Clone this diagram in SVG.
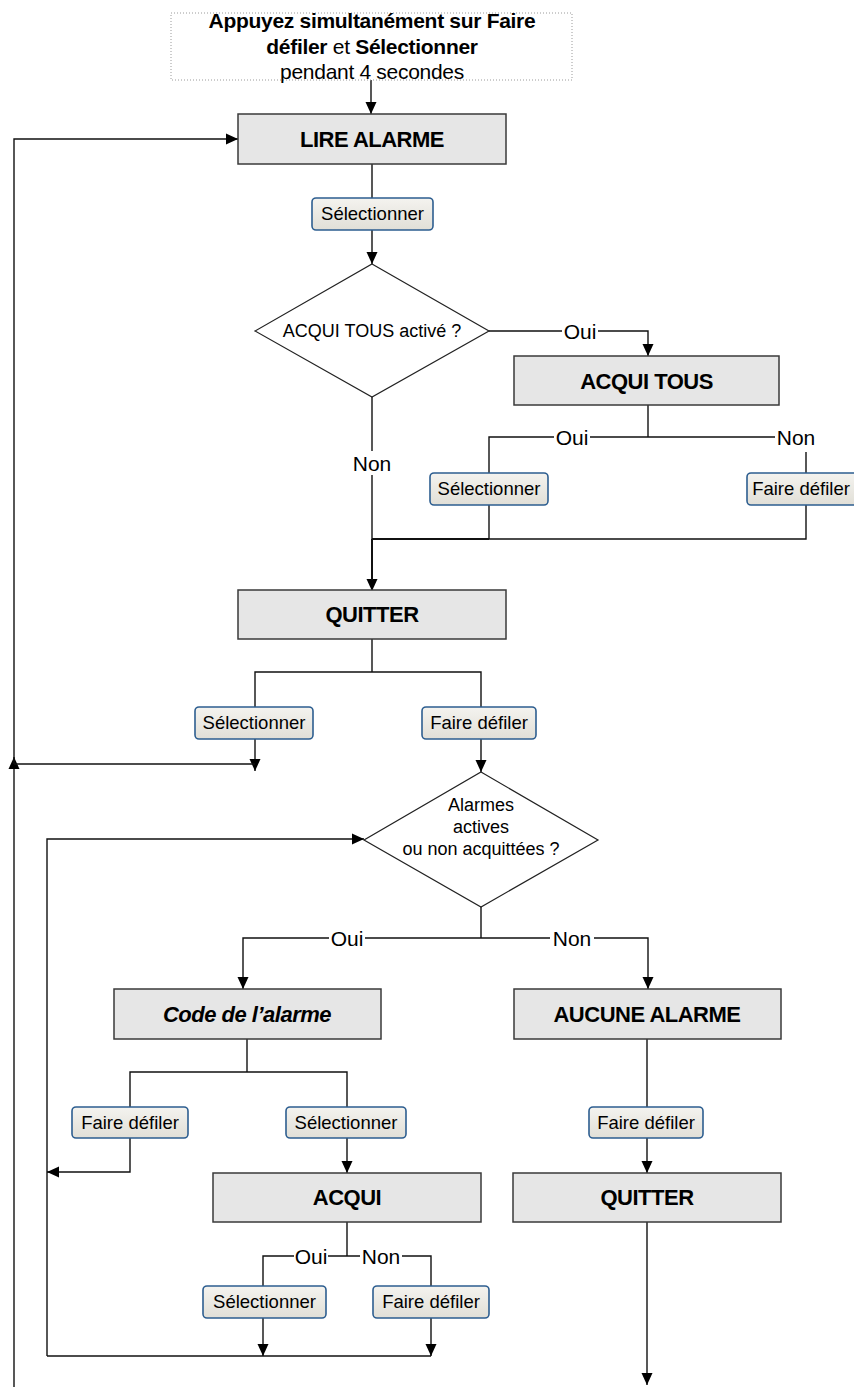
<svg xmlns="http://www.w3.org/2000/svg" width="854" height="1387" viewBox="0 0 854 1387">
<style>
.box{fill:#e6e6e6;stroke:#3a3a3a;stroke-width:1.5}
.btn{fill:url(#bg);stroke:#2d5e90;stroke-width:1.6}
.dia{fill:#fff;stroke:#222;stroke-width:1.2}
.t{font-family:"Liberation Sans",Arial,sans-serif;fill:#000;text-anchor:middle}
.bt{font-size:22px;font-weight:bold;letter-spacing:-0.5px}
.btx{font-size:18.5px}
.dt{font-size:18px}
.lb{font-size:21px}
.c{fill:none;stroke:#111;stroke-width:1.4}
.a{marker-end:url(#arr)}
.lbg{fill:#fff}
</style>
<defs>
<linearGradient id="bg" x1="0" y1="0" x2="0" y2="1">
<stop offset="0" stop-color="#f4f3ef"/>
<stop offset="1" stop-color="#e1dfd7"/>
</linearGradient>
<marker id="arr" markerWidth="12" markerHeight="12" viewBox="0 0 12 12" refX="12" refY="6" orient="auto" markerUnits="userSpaceOnUse">
<path d="M0,0.5 L12,6 L0,11.5 z" fill="#000"/>
</marker>
</defs>

<g id="connectors">
<path class="c a" d="M371,80 V114"/>
<path class="c" d="M372,164 V198"/>
<path class="c a" d="M372,230 V264"/>
<path class="c a" d="M489,331 H648 V356"/>
<path class="c a" d="M372,397 V591"/>
<path class="c" d="M372,539 V580" style="stroke-width:2"/>
<path class="c" d="M648,405 V437"/>
<path class="c" d="M489,473 V437 H806 V473"/>
<path class="c" d="M489,505 V539"/>
<path class="c" d="M806,505 V539 H372"/>
<path class="c" d="M372,539 H489" style="stroke-width:2"/>
<path class="c" d="M372,639 V672"/>
<path class="c" d="M255,707 V672 H481 V707"/>
<path class="c a" d="M255,739 V771"/>
<path class="c a" d="M481,739 V772"/>
<path class="c a" d="M14,1387 V757"/>
<path class="c" d="M255,764 H14"/>
<path class="c a" d="M14,764 V139 H238"/>
<path class="c a" d="M47,1356 V839 H364"/>
<path class="c" d="M47,1356 H431"/>
<path class="c" d="M481,907 V938"/>
<path class="c a" d="M481,938 H243 V989"/>
<path class="c a" d="M481,938 H648 V989"/>
<path class="c" d="M247,1039 V1072"/>
<path class="c" d="M130,1107 V1072 H347 V1107"/>
<path class="c a" d="M130,1138 V1172 H47"/>
<path class="c a" d="M347,1138 V1173"/>
<path class="c" d="M347,1222 V1256"/>
<path class="c" d="M263,1286 V1256 H431 V1286"/>
<path class="c a" d="M263,1318 V1356"/>
<path class="c a" d="M431,1318 V1356"/>
<path class="c" d="M647,1039 V1107"/>
<path class="c a" d="M647,1138 V1173"/>
<path class="c a" d="M647,1222 V1385"/>

<g id="labels">
<rect class="lbg" x="562" y="320" width="36" height="22"/>
<text class="t lb" x="580" y="339">Oui</text>
<rect class="lbg" x="350" y="451" width="44" height="24"/>
<text class="t lb" x="372" y="471">Non</text>
<rect class="lbg" x="554" y="426" width="36" height="22"/>
<text class="t lb" x="572" y="445">Oui</text>
<rect class="lbg" x="775" y="426" width="44" height="26"/>
<text class="t lb" x="796" y="445">Non</text>
<rect class="lbg" x="329" y="927" width="36" height="22"/>
<text class="t lb" x="347" y="946">Oui</text>
<rect class="lbg" x="550" y="927" width="44" height="22"/>
<text class="t lb" x="572" y="946">Non</text>
<rect class="lbg" x="294" y="1245" width="34" height="22"/>
<text class="t lb" x="311" y="1264">Oui</text>
<rect class="lbg" x="360" y="1245" width="42" height="22"/>
<text class="t lb" x="381" y="1264">Non</text>
</g>
</g>

<g id="start">
<rect x="171" y="13" width="401" height="67" fill="none" stroke="#9a9a9a" stroke-width="1" stroke-dasharray="1,2"/>
<text class="t" font-size="21" x="372" y="28" font-weight="bold" letter-spacing="-0.3">Appuyez simultanément sur Faire</text>
<text class="t" font-size="21" x="372" y="54" letter-spacing="-0.3"><tspan font-weight="bold">défiler</tspan> et <tspan font-weight="bold">Sélectionner</tspan></text>
<text class="t" font-size="21" x="372" y="79" letter-spacing="-0.3">pendant 4 secondes</text>
</g>

<g id="lire-alarme">
<rect class="box" x="238" y="114" width="268" height="50"/>
<text class="t bt" x="372" y="147">LIRE ALARME</text>
</g>

<g id="btn-sel-1">
<rect class="btn" x="312" y="198" width="121" height="32" rx="4"/>
<text class="t btx" x="372.5" y="220">Sélectionner</text>
</g>

<g id="dec-acqui-tous">
<polygon class="dia" points="372,264 489,331 372,397 255,331"/>
<text class="t dt" x="372" y="337">ACQUI TOUS activé ?</text>
</g>

<g id="acqui-tous">
<rect class="box" x="514" y="356" width="265" height="49"/>
<text class="t bt" x="646.5" y="389">ACQUI TOUS</text>
</g>

<g id="btn-sel-2">
<rect class="btn" x="430" y="473" width="118" height="32" rx="4"/>
<text class="t btx" x="489" y="495">Sélectionner</text>
</g>

<g id="btn-def-1">
<rect class="btn" x="747" y="473" width="112" height="32" rx="4"/>
<text class="t btx" x="801" y="495">Faire défiler</text>
</g>

<g id="quitter-1">
<rect class="box" x="238" y="590" width="268" height="49"/>
<text class="t bt" x="372" y="622">QUITTER</text>
</g>

<g id="btn-sel-3">
<rect class="btn" x="195" y="707" width="118" height="32" rx="4"/>
<text class="t btx" x="254" y="729">Sélectionner</text>
</g>

<g id="btn-def-2">
<rect class="btn" x="422" y="707" width="114" height="32" rx="4"/>
<text class="t btx" x="479" y="729">Faire défiler</text>
</g>

<g id="dec-alarmes">
<polygon class="dia" points="481,772 598,840 481,907 364,840"/>
<text class="t dt" x="481" y="811">Alarmes</text>
<text class="t dt" x="481" y="833">actives</text>
<text class="t dt" x="481" y="855">ou non acquittées ?</text>
</g>

<g id="code-alarme">
<rect class="box" x="114" y="989" width="267" height="50"/>
<text class="t bt" x="247" y="1022" font-style="italic">Code de l’alarme</text>
</g>

<g id="aucune-alarme">
<rect class="box" x="514" y="989" width="267" height="50"/>
<text class="t bt" x="647" y="1022">AUCUNE ALARME</text>
</g>

<g id="btn-def-3">
<rect class="btn" x="72" y="1107" width="116" height="31" rx="4"/>
<text class="t btx" x="130" y="1129">Faire défiler</text>
</g>

<g id="btn-sel-4">
<rect class="btn" x="286" y="1107" width="120" height="31" rx="4"/>
<text class="t btx" x="346" y="1129">Sélectionner</text>
</g>

<g id="acqui">
<rect class="box" x="213" y="1173" width="268" height="49"/>
<text class="t bt" x="347" y="1205">ACQUI</text>
</g>

<g id="btn-sel-5">
<rect class="btn" x="203" y="1286" width="123" height="32" rx="4"/>
<text class="t btx" x="264.5" y="1308">Sélectionner</text>
</g>

<g id="btn-def-4">
<rect class="btn" x="373" y="1286" width="116" height="32" rx="4"/>
<text class="t btx" x="431" y="1308">Faire défiler</text>
</g>

<g id="btn-def-5">
<rect class="btn" x="589" y="1107" width="114" height="31" rx="4"/>
<text class="t btx" x="646" y="1129">Faire défiler</text>
</g>

<g id="quitter-2">
<rect class="box" x="513" y="1173" width="268" height="49"/>
<text class="t bt" x="647" y="1205">QUITTER</text>
</g>
</svg>
